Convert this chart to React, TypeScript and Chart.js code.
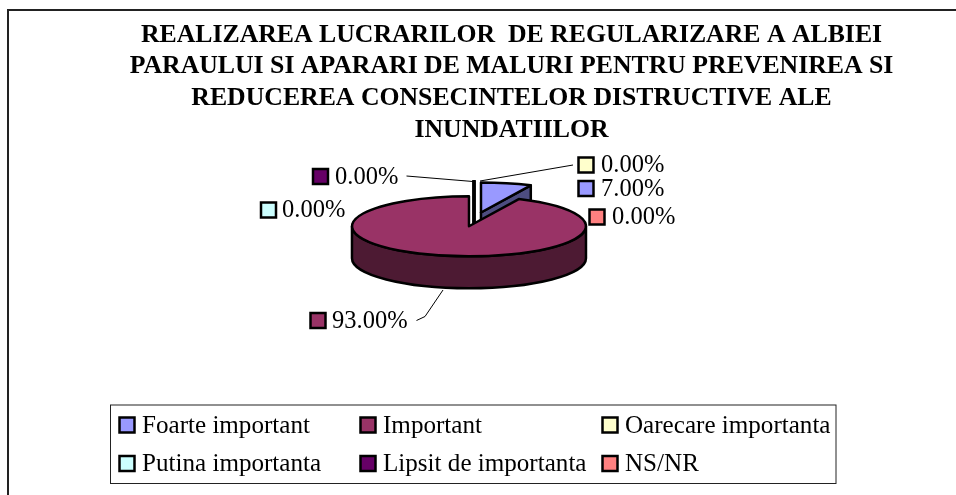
import React, { useEffect, useRef } from "react";
import { Chart, registerables } from "chart.js";

Chart.register(...registerables);

const categories = ["Foarte important", "Important", "Oarecare importanta", "Putina importanta", "Lipsit de importanta", "NS/NR"];
const shares = [7, 93, 0, 0, 0, 0];
const colors = ["#9999FF", "#993366", "#FFFFCC", "#CCFFFF", "#660066", "#FF8080"];
const wallColors = ["#4D4D80", "#4D1A33", "#808066", "#668080", "#330033", "#804040"];
const titleLines = [
  "REALIZAREA LUCRARILOR  DE REGULARIZARE A ALBIEI",
  "PARAULUI SI APARARI DE MALURI PENTRU PREVENIREA SI",
  "REDUCEREA CONSECINTELOR DISTRUCTIVE ALE",
  "INUNDATIILOR",
];

const SERIF = '"Liberation Serif", "Times New Roman", serif';
const LABEL_FONT = `24.5px ${SERIF}`;
const LEGEND_FONT = `25.1px ${SERIF}`;

// pie look
const CENTER_X = 474;
const CENTER_Y = 220.5;
const RADIUS = 117;
const SQUASH = 30 / 117;
const DEPTH = 32;
const EXPLODE = [32, 23, 40, 40, 40, 40];

// [key centre x, key centre y, text x] per category
const labelPlaces = [
  [586, 188.5, 601],
  [318, 320.5, 332],
  [586, 165, 601],
  [268.5, 210, 282],
  [320.5, 176.5, 335],
  [597, 217, 612],
];
const leaderLines = [
  [[573, 165], [480, 181]],
  [[406.5, 176], [473, 181.5]],
  [[443, 290], [425, 316.5], [416.5, 320.5]],
];
const legendBox = [110.5, 405, 836, 483.5];
const legendColumns = [119, 360, 602];
const legendRows = [425, 463.5];

function sliceGeometry(arc: any, i: number) {
  const mid = (arc.startAngle + arc.endAngle) / 2;
  const x = CENTER_X + Math.cos(mid) * EXPLODE[i];
  const y = CENTER_Y + Math.sin(mid) * EXPLODE[i] * SQUASH;
  return { x, y, start: arc.startAngle, end: arc.endAngle, r: arc.outerRadius, ry: arc.outerRadius * SQUASH };
}

function key(ctx: CanvasRenderingContext2D, cx: number, cy: number, color: string) {
  ctx.fillStyle = color;
  ctx.strokeStyle = "#000";
  ctx.lineWidth = 2.5;
  ctx.beginPath();
  ctx.rect(cx - 7.5, cy - 7.5, 15, 15);
  ctx.fill();
  ctx.stroke();
}

const pie3d = {
  id: "pie3d",
  beforeDraw(chart: any) {
    const ctx = chart.ctx;
    ctx.save();
    ctx.fillStyle = "#fff";
    ctx.fillRect(0, 0, chart.width, chart.height);
    ctx.strokeStyle = "#222";
    ctx.lineWidth = 2;
    ctx.beginPath();
    ctx.moveTo(8, 495);
    ctx.lineTo(8, 10);
    ctx.lineTo(956, 10);
    ctx.stroke();
    ctx.restore();
  },
  beforeDatasetDraw(chart: any) {
    const ctx: CanvasRenderingContext2D = chart.ctx;
    const arcs = chart.getDatasetMeta(0).data;
    const order = [2, 3, 4, 5, 0, 1];
    ctx.save();
    ctx.lineJoin = "round";
    order.forEach((i) => {
      const arc = arcs[i];
      const g = sliceGeometry(arc, i);
      if (shares[i] === 0) {
        ctx.strokeStyle = "#000";
        ctx.lineWidth = 3;
        ctx.beginPath();
        const px = g.x + Math.cos(g.start) * g.r;
        const py = g.y + Math.sin(g.start) * g.ry;
        ctx.moveTo(px, py);
        ctx.lineTo(g.x, g.y + DEPTH);
        ctx.stroke();
        return;
      }
      ctx.strokeStyle = "#000";
      ctx.lineWidth = 2.5;
      ctx.fillStyle = wallColors[i];
      // radial wall at the end edge
      const ex = g.x + Math.cos(g.end) * g.r;
      const ey = g.y + Math.sin(g.end) * g.ry;
      if (shares[i] < 50) {
        ctx.beginPath();
        ctx.moveTo(g.x, g.y);
        ctx.lineTo(ex, ey);
        ctx.lineTo(ex, ey + DEPTH);
        ctx.lineTo(g.x, g.y + DEPTH);
        ctx.closePath();
        ctx.fill();
        ctx.stroke();
      } else {
        // outer wall over the front half
        ctx.beginPath();
        ctx.ellipse(g.x, g.y, g.r, g.ry, 0, 0, Math.PI);
        ctx.lineTo(g.x - g.r, g.y + DEPTH);
        ctx.ellipse(g.x, g.y + DEPTH, g.r, g.ry, 0, Math.PI, 0, true);
        ctx.closePath();
        ctx.fill();
        ctx.stroke();
      }
      // top face, drawn by the library's arc element
      ctx.save();
      ctx.translate(g.x, g.y);
      ctx.scale(1, SQUASH);
      ctx.translate(-arc.x, -arc.y);
      arc.draw(ctx);
      ctx.restore();
      ctx.beginPath();
      ctx.moveTo(g.x, g.y);
      ctx.ellipse(g.x, g.y, g.r, g.ry, 0, g.start, g.end);
      ctx.closePath();
      ctx.stroke();
    });
    ctx.restore();
    return false;
  },
  afterDatasetsDraw(chart: any) {
    const ctx: CanvasRenderingContext2D = chart.ctx;
    const total = shares.reduce((a, b) => a + b, 0);
    ctx.save();
    ctx.strokeStyle = "#000";
    ctx.lineWidth = 1;
    leaderLines.forEach((pts) => {
      ctx.beginPath();
      pts.forEach(([x, y], n) => (n ? ctx.lineTo(x, y) : ctx.moveTo(x, y)));
      ctx.stroke();
    });
    ctx.textBaseline = "middle";
    ctx.textAlign = "left";
    shares.forEach((v, i) => {
      const [kx, ky, tx] = labelPlaces[i];
      key(ctx, kx, ky, colors[i]);
      ctx.fillStyle = "#000";
      ctx.font = LABEL_FONT;
      ctx.fillText(((v / total) * 100).toFixed(2) + "%", tx, ky + 1);
    });
    // legend
    const [lx0, ly0, lx1, ly1] = legendBox;
    ctx.lineWidth = 1;
    ctx.strokeStyle = "#222";
    ctx.strokeRect(lx0, ly0, lx1 - lx0, ly1 - ly0);
    categories.forEach((name, i) => {
      const col = i % 3;
      const row = Math.floor(i / 3);
      const x = legendColumns[col];
      const y = legendRows[row];
      key(ctx, x + 8, y, colors[i]);
      ctx.fillStyle = "#000";
      ctx.font = LEGEND_FONT;
      ctx.fillText(name, x + 23, y + 1);
    });
    ctx.restore();
  },
};

export default function App() {
  const ref = useRef<HTMLCanvasElement>(null);
  useEffect(() => {
    const chart = new Chart(ref.current as HTMLCanvasElement, {
      type: "pie",
      data: {
        labels: categories,
        datasets: [{ data: shares, backgroundColor: colors, borderWidth: 0 }],
      },
      options: {
        animation: false,
        responsive: false,
        radius: RADIUS,
        layout: { padding: { left: 67, top: 8 } },
        plugins: {
          legend: { display: false },
          tooltip: { enabled: false },
          title: {
            display: true,
            text: titleLines,
            color: "#000",
            font: { family: SERIF, size: 25.75, weight: "bold", lineHeight: 1.235 },
            padding: { top: 11, bottom: 8 },
          },
        },
      } as any,
      plugins: [pie3d as any],
    });
    return () => chart.destroy();
  }, []);
  return (
    <div style={{ position: "absolute", left: 0, top: 0, width: 956, height: 495, overflow: "hidden" }}>
      <canvas ref={ref} width={956} height={495} style={{ display: "block" }} />
    </div>
  );
}
